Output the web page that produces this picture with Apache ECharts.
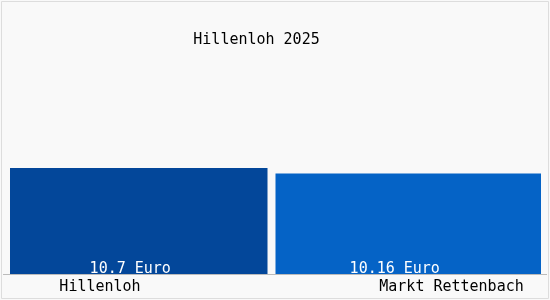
<!DOCTYPE html>
<html><head><meta charset="utf-8">
<script src="https://cdn.jsdelivr.net/npm/echarts@6/dist/echarts.min.js"></script>
<style>html,body{margin:0;padding:0;background:#fff}#c{width:550px;height:300px}</style>
</head><body><div id="c"></div>
<script>
const categories = ['Hillenloh', 'Markt Rettenbach'];
const values = [10.7, 10.16];
const barColors = ['#03479a', '#0563c6'];
const titleText = 'Hillenloh 2025';
const unit = 'Euro';

const chart = echarts.init(document.getElementById('c'));
const font = 'DejaVu Sans Mono';
const fs = 15;
const rightTrim = [8, 0];
const labelShift = [-8.5, -13.5];
chart.setOption({
  backgroundColor: '#f9f9f9',
  animation: false,
  title: {text: titleText, left: 251.5, top: 28, textAlign: 'center',
    textStyle: {fontFamily: font, fontSize: fs, fontWeight: 'normal', color: '#000'}},
  graphic: [
    {type: 'rect', shape: {x: 1.5, y: 1.5, width: 547, height: 297},
     style: {fill: 'none', stroke: '#dddddd', lineWidth: 1}, silent: true},
    {type: 'line', shape: {x1: 3, y1: 274.5, x2: 547, y2: 274.5},
     style: {stroke: '#bbbbbb', lineWidth: 1}, silent: true, z: 10}
  ],
  grid: {left: 10, right: 9, top: 76, bottom: 26},
  xAxis: {type: 'category',
    data: categories.map((c, i) => ({value: c, textStyle: {padding: i === 0 ? [0, 85.5, 0, 0] : [0, 0, 0, 86.5]}})),
    axisLine: {show: false}, axisTick: {show: false},
    axisLabel: {fontFamily: font, fontSize: fs, color: '#000', margin: 6}},
  yAxis: {type: 'value', min: 0, max: 20, show: false, splitLine: {show: false}},
  series: [{type: 'custom',
    data: values.map((v, i) => [i, v]),
    encode: {x: 0, y: 1},
    renderItem: function (params, api) {
      const i = api.value(0);
      const base = api.coord([i, 0]);
      const top = api.coord([i, api.value(1)]);
      const band = api.size([1, 0])[0];
      const x = base[0] - band / 2;
      const w = band - rightTrim[i];
      return {type: 'group', children: [
        {type: 'rect', shape: {x: x, y: top[1], width: w, height: base[1] - top[1]},
         style: {fill: barColors[i]}},
        {type: 'text', x: x + w / 2 + labelShift[i], y: base[1] + 2.5,
         style: {text: String(api.value(1)) + ' ' + unit, fill: '#fff',
           font: fs + 'px "' + font + '"', align: 'center', verticalAlign: 'bottom'}}
      ]};
    }}]
});
</script></body></html>
